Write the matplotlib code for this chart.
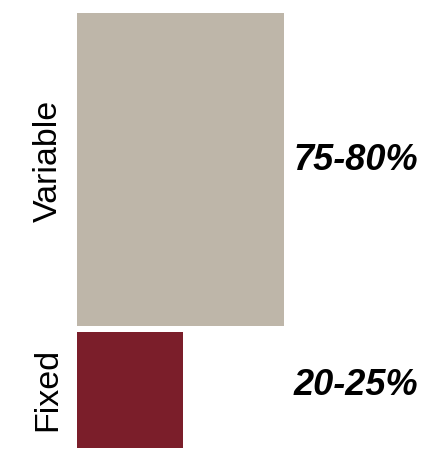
import matplotlib
matplotlib.use("Agg")
import matplotlib.pyplot as plt
from matplotlib.transforms import blended_transform_factory

categories = ["Variable", "Fixed"]
range_labels = ["75-80%", "20-25%"]
bar_lengths = [100, 51]          # relative bar length
bar_thickness = [313, 116]       # relative band thickness
colors = ["#BEB6A9", "#7B1E2A"]

plt.rcParams['font.family'] = ['Liberation Sans', 'DejaVu Sans']

W, H = 428, 449
fig = plt.figure(figsize=(W / 100, H / 100), dpi=100)
ax_left, ax_right = 77, 428
ax_top, ax_bottom = 13, 448
ax = fig.add_axes([ax_left / W, 1 - ax_bottom / H, (ax_right - ax_left) / W, (ax_bottom - ax_top) / H])

gap = 6
y = 0
order = list(range(len(categories)))[::-1]
pos = {}
for i in order:
    pos[i] = y + bar_thickness[i] / 2
    y += bar_thickness[i] + gap
total = y - gap

for i in range(len(categories)):
    ax.barh(pos[i], bar_lengths[i], height=bar_thickness[i], left=0, color=colors[i], linewidth=0)

ax.set_xlim(0, 100 * (ax_right - ax_left) / 207)
ax.set_ylim(0, total)
ax.axis('off')

trans = blended_transform_factory(ax.transAxes, ax.transData)
x_right = (418 - ax_left) / (ax_right - ax_left)
x_cat = (48 - ax_left) / (ax_right - ax_left)
pct_offset = [0, -5]
cat_offset = [9, 1]
for i in range(len(categories)):
    ax.text(x_right, pos[i] + pct_offset[i], range_labels[i], transform=trans, ha='right', va='baseline',
            fontsize=26, fontweight='bold', fontstyle='italic', color='black', clip_on=False)
    ax.text(x_cat, pos[i] + cat_offset[i], categories[i], transform=trans, ha='center', va='center',
            rotation=90, fontsize=24.5, color='black', clip_on=False)

fig.savefig("out.png", dpi=100)
